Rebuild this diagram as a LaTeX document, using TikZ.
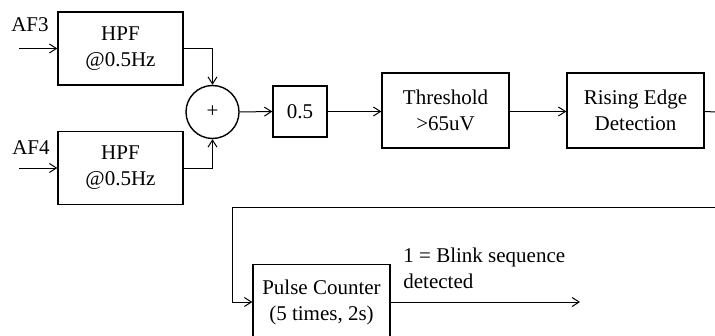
\documentclass[tikz,border=0pt]{standalone}
\usepackage{fontspec}
\setmainfont{Liberation Serif}
\usepackage{tikz}
\usetikzlibrary{arrows.meta}

\begin{document}
\begin{tikzpicture}[x=0.5pt,y=-0.5pt,
		font=\fontsize{10.5}{13}\selectfont,
		block/.style={draw, line width=0.7pt, align=center, inner sep=0pt, minimum height=37.5pt},
		sumnode/.style={draw, circle, line width=0.7pt, inner sep=0pt, minimum size=26.5pt},
		wire/.style={line width=0.5pt},
		sig/.style={wire, -{Straight Barb[length=3.5pt, width=4.5pt]}}]
			%\draw[help lines] (0,0) grid[step=50] (715,336);
			\clip (0,0) rectangle (715,336);
			
			% input filters
			\node[block, minimum width=62.5pt, minimum height=36.5pt] (hpfa) at (120.5,48.5) {HPF\\@0.5Hz};
			\node[block, minimum width=62.5pt, minimum height=36.5pt] (hpfb) at (120.5,168) {HPF\\@0.5Hz};
			
			\node[anchor=base] (af3) at (30,32) {AF3};
			\node[anchor=base] (af4) at (31,155) {AF4};
			\coordinate (ina) at (19,48.5);
			\coordinate (inb) at (19,168);
			
			\node[sumnode] (sum) at (212.5,112) {+};
			\node[block, minimum width=27pt, minimum height=25.5pt] (gain) at (300,111.5) {0.5};
			\node[block, minimum width=63.5pt] (thr) at (445.5,110.5) {Threshold\\>65uV};
			\node[block, minimum width=68.5pt] (edge) at (635.5,110.5) {Rising Edge\\Detection};
			
			% second row
			\node[block, minimum width=68.5pt] (count) at (321.5,302) {Pulse Counter\\(5 times, 2s)};
			\node[anchor=north west, align=left, inner sep=0pt] (res) at (403,248) {1 = Blink sequence\\detected};
			
			\coordinate (edgeout) at (716,112);
			\coordinate (fbin) at (716,207);
			\coordinate (out) at (580,302);
			
			\draw[sig] (ina) -- (hpfa.west |- ina);
			\draw[sig] (inb) -- (hpfb.west |- inb);
			\draw[sig] (hpfa.east) -| (sum.north);
			\draw[sig] (hpfb.east) -| (sum.south);
			\draw[sig] (sum.east) -- (gain.west);
			\draw[sig] (gain.east) -- (thr.west |- gain.east);
			\draw[sig] (thr.east |- gain.east) -- (edge.west |- gain.east);
			\draw[wire] (edge.east |- gain.east) -- (edgeout);
			\draw[sig] (fbin) -- (232,207) |- (count.west);
			\draw[sig] (count.east) -- (out);
			
\end{tikzpicture}
\end{document}
